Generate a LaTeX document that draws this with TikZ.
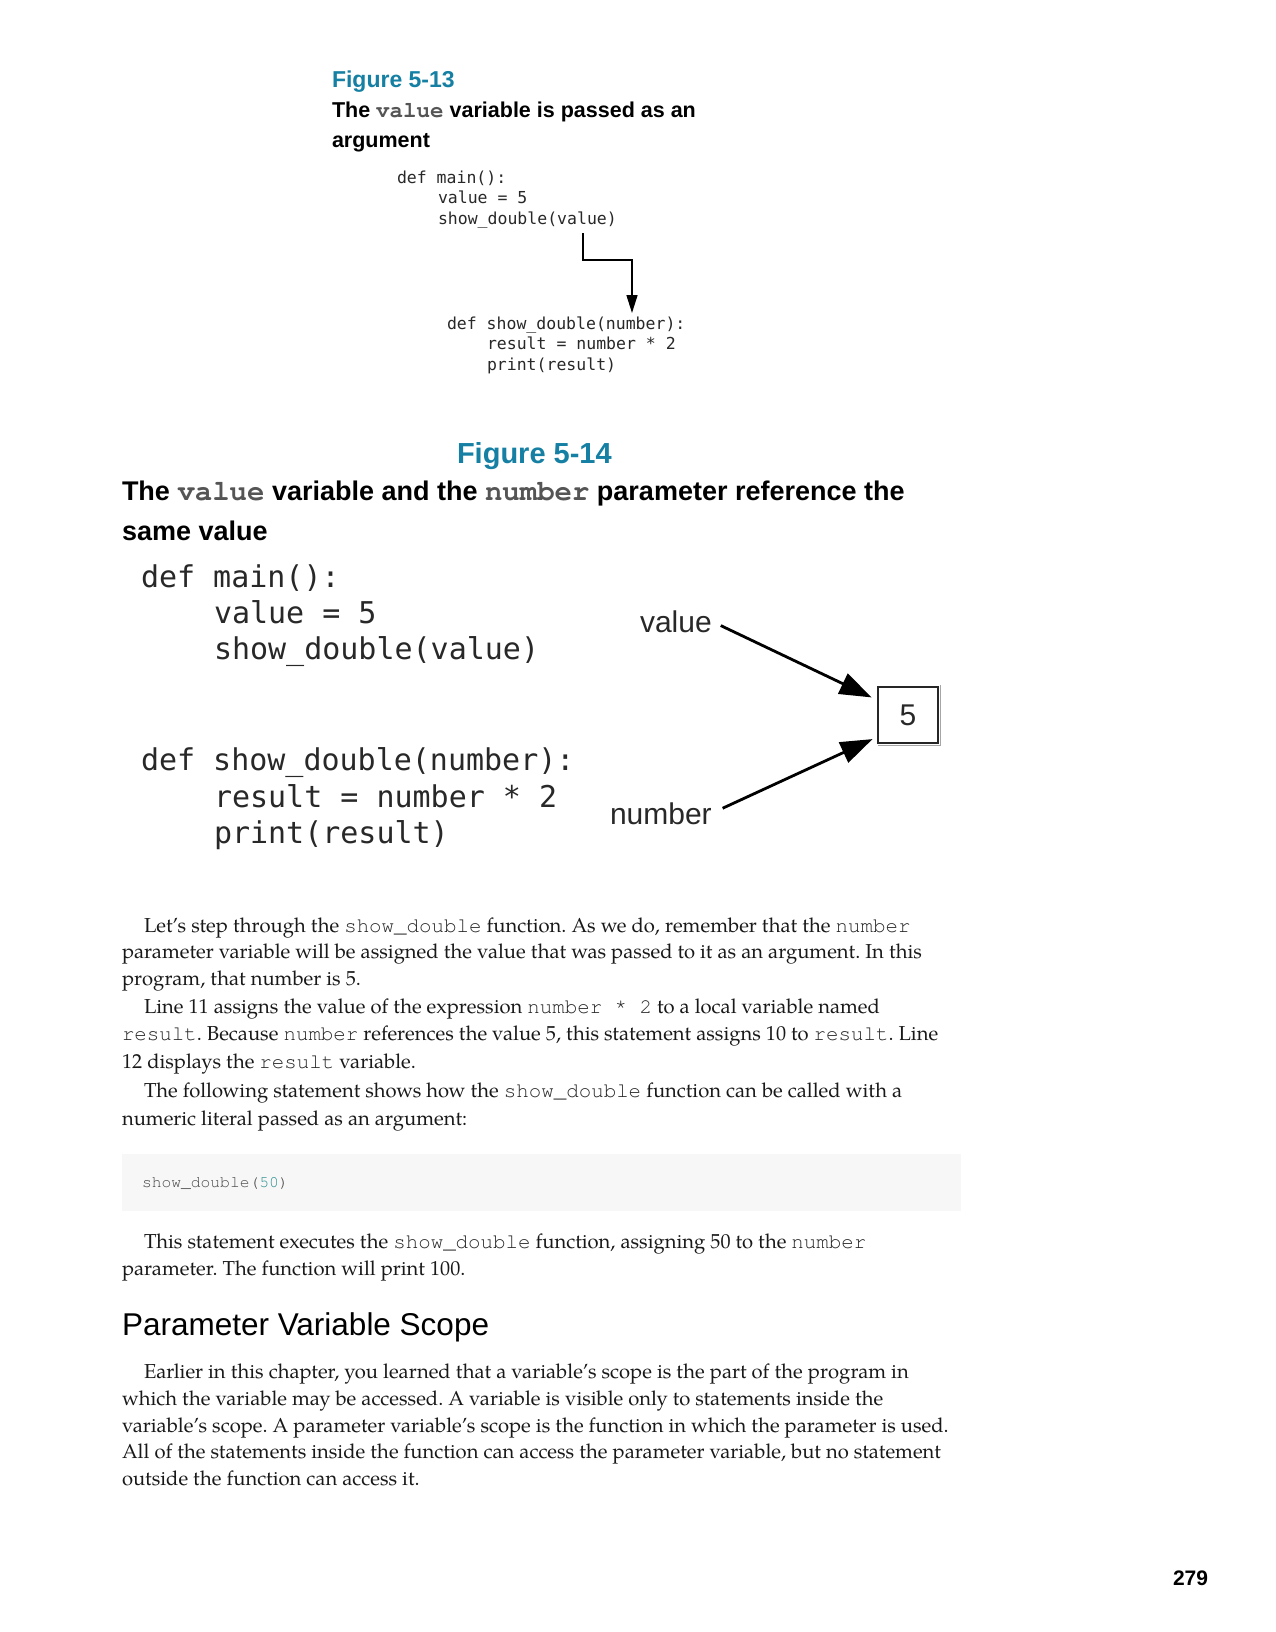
\documentclass[tikz,border=0pt]{standalone}
\usepackage{fontspec}
\setmainfont{TeX Gyre Pagella}
\newfontfamily\hv{Liberation Sans}
\newfontfamily\cm{TeX Gyre Cursor}
\newfontfamily\dm{DejaVu Sans Mono}
\usetikzlibrary{arrows.meta,calc}
\definecolor{teal13}{RGB}{21,128,163}
\definecolor{codegray}{RGB}{40,40,40}
\definecolor{blockgray}{RGB}{70,70,70}
\definecolor{titlemono}{RGB}{85,85,85}
\definecolor{figcode}{RGB}{40,40,40}
\definecolor{bodytext}{RGB}{25,25,25}
\definecolor{blockbg}{RGB}{247,247,247}
\definecolor{numteal}{RGB}{38,140,140}
\newcommand{\mycode}[1]{{\cm\fontsize{20.8}{24}\selectfont\color{codegray}#1}}
\tikzset{
  txt/.style={anchor=base west, inner sep=0pt, outer sep=0pt},
  body/.style={txt, font=\frenchspacing\fontsize{20.2}{24}\selectfont, text=bodytext},
  figtitle/.style={txt, font=\hv\bfseries\fontsize{23}{27}\selectfont, text=teal13},
  capt/.style={txt, font=\hv\bfseries\fontsize{21.5}{26}\selectfont, text=black},
  code13/.style={txt, font=\dm\fontsize{16.5}{20}\selectfont, text=figcode},
  code14/.style={txt, font=\dm\fontsize{30}{36}\selectfont, text=figcode},
  lbl/.style={txt, font=\hv\fontsize{30}{36}\selectfont, text=figcode},
  smallarr/.style={-{Triangle[length=18pt,width=11pt]}, line width=1.6pt},
  bigarr/.style={-{Triangle[length=32pt,width=22pt]}, line width=2.8pt},
}
\begin{document}
\begin{tikzpicture}[x=1pt,y=-1pt]
\useasboundingbox (0,0) rectangle (1275,1632);
\fill[white] (0,0) rectangle (1275,1632);

% ---------- Figure 5-13 ----------
\node[figtitle] (f13) at (332,88) {Figure 5-13};
\node[capt] (t13a) at (332,118) {The {\cm\bfseries\fontsize{22.5}{26}\selectfont\color{titlemono}value} variable is passed as an};
\node[capt] (t13b) at (332,148) {argument};
\node[code13] (c13a) at (397,183) {def main():};
\node[code13] (c13b) at (438,204) {value = 5};
\node[code13] (c13c) at (438,224) {show\_double(value)};
\node[code13] (c13d) at (447,329) {def show\_double(number):};
\node[code13] (c13e) at (487,349) {result = number * 2};
\node[code13] (c13f) at (487,370) {print(result)};
\draw[smallarr] ($(c13c.base west)+(145,9)$) -- ++(0,27) -| ($(c13d.base west)+(185,-16)$);

% ---------- Figure 5-14 ----------
\node[figtitle, font=\hv\bfseries\fontsize{29}{34}\selectfont] (f14) at (457,463) {Figure 5-14};
\node[capt, font=\hv\bfseries\fontsize{27}{30}\selectfont] (t14a) at (122,500)
  {The {\cm\bfseries\fontsize{29}{30}\selectfont\color{titlemono}value} variable and the {\cm\bfseries\fontsize{29}{30}\selectfont\color{titlemono}number} parameter reference the};
\node[capt, font=\hv\bfseries\fontsize{27}{30}\selectfont] (t14b) at (122,540) {same value};
\node[code14] (c14a) at (141,587) {def main():};
\node[code14] (c14b) at (214,623) {value = 5};
\node[code14] (c14c) at (214,659) {show\_double(value)};
\node[code14] (c14d) at (141,770) {def show\_double(number):};
\node[code14] (c14e) at (214,807) {result = number * 2};
\node[code14] (c14f) at (214,843) {print(result)};
\node[lbl] (lv) at (640,632) {value};
\node[lbl] (ln) at (610,824) {number};
\node[draw=black!85, line width=1.8pt, minimum width=60pt, minimum height=56pt, inner sep=0pt,
      font=\hv\fontsize{30}{36}\selectfont, text=figcode] (bx) at (908,715) {5};
\draw[black!35, line width=1pt] ([xshift=1.5pt,yshift=1pt]bx.north east) -- ([xshift=1.5pt,yshift=-1.5pt]bx.south east) -- ([xshift=1pt,yshift=-1.5pt]bx.south west);
\draw[bigarr, shorten <=10pt, shorten >=6pt] (lv.east) -- ([yshift=15pt]bx.west);
\draw[bigarr, shorten <=12pt, shorten >=5pt] (ln.east) -- ([yshift=-22pt]bx.west);

% ---------- Body text ----------
\node[body] (p1) at (144,932) {Let’s step through the \mycode{show\_double} function. As we do, remember that the \mycode{number}};
\node[body] (p2) at (122,958) {parameter variable will be assigned the value that was passed to it as an argument. In this};
\node[body] (p3) at (122,985) {program, that number is 5.};
\node[body] (p4) at (144,1013) {Line 11 assigns the value of the expression \mycode{number * 2} to a local variable named};
\node[body] (p5) at (122,1040) {\mycode{result}. Because \mycode{number} references the value 5, this statement assigns 10 to \mycode{result}. Line};
\node[body] (p6) at (122,1068) {12 displays the \mycode{result} variable.};
\node[body] (p7) at (144,1097) {The following statement shows how the \mycode{show\_double} function can be called with a};
\node[body] (p8) at (122,1125) {numeric literal passed as an argument:};

\fill[blockbg] (122,1154) rectangle (961,1211);
\node[txt, font=\cm\fontsize{16.3}{20}\selectfont, text=blockgray] (blk) at (142,1187)
  {show\_double({\color{numteal}50})};

\node[body] (p9) at (144,1248) {This statement executes the \mycode{show\_double} function, assigning 50 to the \mycode{number}};
\node[body] (p10) at (122,1275) {parameter. The function will print 100.};

\node[txt, font=\hv\fontsize{31.5}{36}\selectfont, text=black] (h1) at (122,1335) {Parameter Variable Scope};

\node[body] (p11) at (144,1378) {Earlier in this chapter, you learned that a variable’s scope is the part of the program in};
\node[body] (p12) at (122,1405) {which the variable may be accessed. A variable is visible only to statements inside the};
\node[body] (p13) at (122,1432) {variable’s scope. A parameter variable’s scope is the function in which the parameter is used.};
\node[body] (p14) at (122,1458) {All of the statements inside the function can access the parameter variable, but no statement};
\node[body] (p15) at (122,1485) {outside the function can access it.};

\node[txt, font=\hv\bfseries\fontsize{21}{25}\selectfont, text=black] (pg) at (1173,1585) {279};
\end{tikzpicture}
\end{document}
